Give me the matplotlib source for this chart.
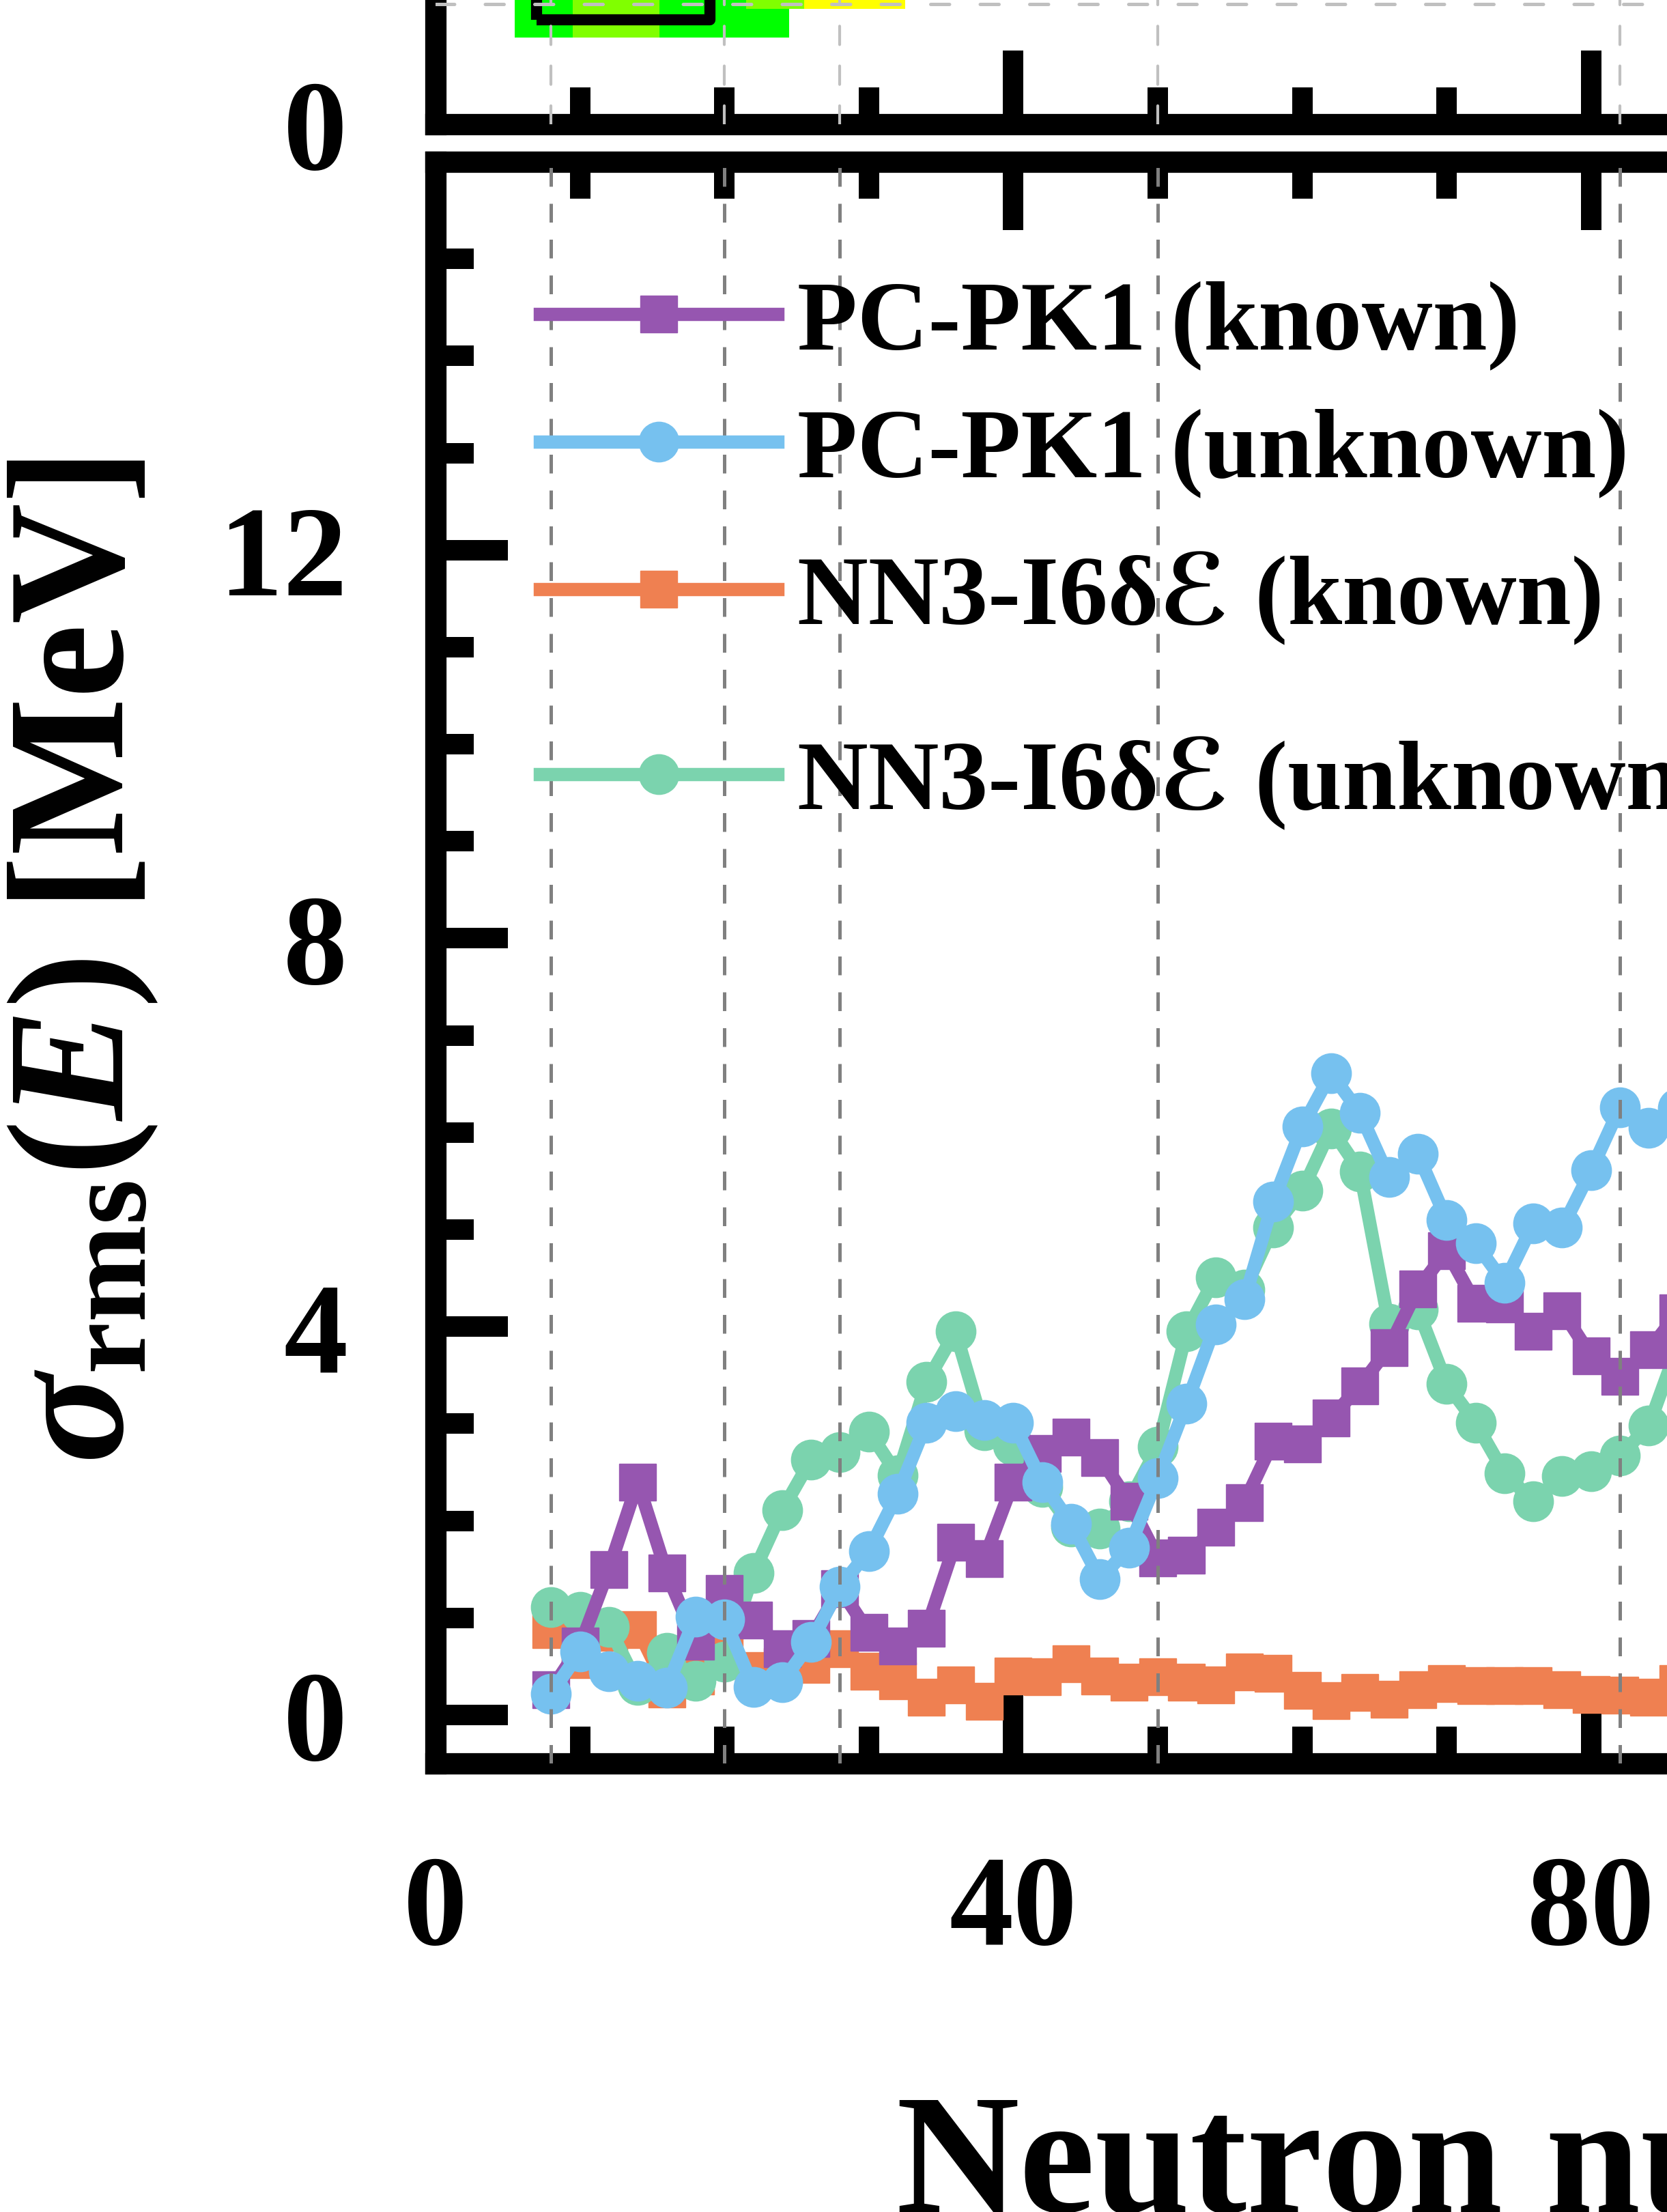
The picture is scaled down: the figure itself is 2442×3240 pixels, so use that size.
import matplotlib
matplotlib.use("Agg")
import matplotlib.pyplot as plt
from matplotlib.patches import Rectangle
from matplotlib.ticker import MultipleLocator, FixedLocator, NullFormatter
from matplotlib.font_manager import FontProperties

# ---------------- data ----------------
N = [8, 10, 12, 14, 16, 18, 20, 22, 24, 26, 28, 30, 32, 34, 36, 38, 40, 42, 44, 46,
     48, 50, 52, 54, 56, 58, 60, 62, 64, 66, 68, 70, 72, 74, 76, 78, 80, 82, 84, 86]

pcpk1_known = [0.26, 0.71, 1.50, 2.40, 1.46, 0.76, 1.25, 0.98, 0.68, 0.79, 1.30, 0.85, 0.71, 0.89,
               1.78, 1.61, 2.40, 2.69, 2.86, 2.65, 2.20, 1.62, 1.645, 1.93, 2.19, 2.82, 2.79, 3.06,
               3.39, 3.78, 4.39, 4.78, 4.24, 4.23, 3.95, 4.16, 3.70, 3.49, 3.76, 4.14]
pcpk1_unknown = [0.22, 0.65, 0.45, 0.35, 0.28, 1.01, 0.985, 0.29, 0.34, 0.75, 1.32, 1.69, 2.28, 3.01,
                 3.13, 3.04, 3.01, 2.40, 1.97, 1.40, 1.72, 2.44, 3.21, 4.02, 4.28, 5.29, 6.06, 6.61,
                 6.20, 5.54, 5.78, 5.10, 4.86, 4.45, 5.06, 5.02, 5.61, 6.26, 6.05, 6.25]
nn3_known = [0.88, 0.57, 0.85, 0.88, 0.27, 0.40, 0.63, 0.46, 0.50, 0.52, 0.68, 0.45, 0.35, 0.18,
             0.31, 0.14, 0.40, 0.39, 0.53, 0.40, 0.34, 0.39, 0.34, 0.31, 0.44, 0.43, 0.25, 0.15,
             0.23, 0.16, 0.26, 0.32, 0.30, 0.30, 0.30, 0.26, 0.21, 0.20, 0.18, 0.32]
nn3_unknown = [1.11, 1.06, 0.91, 0.31, 0.64, 0.35, 0.55, 1.46, 2.11, 2.63, 2.71, 2.92, 2.47, 3.43,
               3.95, 2.93, 2.78, 2.35, 1.94, 1.92, 2.20, 2.76, 3.95, 4.51, 4.38, 5.02, 5.40, 6.04,
               5.60, 4.03, 4.18, 3.41, 3.01, 2.49, 2.20, 2.46, 2.51, 2.67, 2.98, 3.80]

labels = ["PC-PK1 (known)", "PC-PK1 (unknown)",
          "NN3-I6δ\u2130 (known)", "NN3-I6δ\u2130 (unknown)"]

magic_N = [8, 20, 28, 50, 82, 126]

# upper panel (nuclear-chart strip, only its lower edge is visible)
cell_row = [6, 6, 6, 7, 7, 7, 8, 8, 8, 8, 8]
cell_n0 = [6, 10, 16, 6, 10, 16, 6, 10, 16, 22, 26]
cell_n1 = [9, 15, 24, 9, 15, 24, 9, 15, 21, 25, 32]
cell_col = ["#00FF00", "#80FF00", "#00FF00", "#00FF00", "#80FF00", "#00FF00",
            "#00FF00", "#80FF00", "#00FF00", "#80FF00", "#FFFF00"]
box_N = (7.0, 19.0)
box_Z = (7.23, 13.0)
z_line = 8.3

# ---------------- style ----------------
plt.rcParams["font.family"] = ["Liberation Serif", "DejaVu Sans", "DejaVu Serif"]
plt.rcParams["font.weight"] = "bold"
plt.rcParams["axes.labelweight"] = "bold"
plt.rcParams["mathtext.fontset"] = "custom"
plt.rcParams["mathtext.rm"] = "Liberation Serif:bold"
plt.rcParams["mathtext.it"] = "Liberation Serif:bold:italic"
plt.rcParams["mathtext.bf"] = "Liberation Serif:bold"

W, H = 2442, 3241
fig = plt.figure(figsize=(W / 100, H / 100), dpi=100)

X0 = 638.0      # pixel of N = 0
PXN = 21.16     # pixels per unit of N
XMAX = 160
def fy(p):
    return 1 - p / H

# bottom axes
b_top, b_bot = 238.0, 2584.0
ax = fig.add_axes([X0 / W, fy(b_bot), XMAX * PXN / W, (b_bot - b_top) / H])
# top axes
t_bot = 183.0
TZMAX = 40
axt = fig.add_axes([X0 / W, fy(t_bot), XMAX * PXN / W, TZMAX * PXN / H])

SP = 22.5
for a in (ax, axt):
    for s in a.spines.values():
        s.set_linewidth(SP)
    a.set_xlim(0, XMAX)
    a.xaxis.set_major_locator(MultipleLocator(40))
    a.xaxis.set_minor_locator(MultipleLocator(10))
    a.tick_params(axis="both", which="both", direction="in", top=True, right=True,
                  width=21.6, labelsize=135, colors="black")
    a.tick_params(axis="x", which="major", length=72, pad=96)
    a.tick_params(axis="x", which="minor", length=39)
    a.tick_params(axis="y", which="major", length=76, pad=93)
    a.tick_params(axis="y", which="minor", length=40)

# ---- bottom panel ----
ax.set_ylim(-0.5, 16)
ax.yaxis.set_major_locator(FixedLocator([0, 4, 8, 12]))
ax.yaxis.set_minor_locator(MultipleLocator(1))

series = [
    (pcpk1_known, "#9656B0", "s", 39, 2.3),
    (pcpk1_unknown, "#76C1EF", "o", 42, 2.4),
    (nn3_known, "#EF8051", "s", 39, 2.1),
    (nn3_unknown, "#7BD3AE", "o", 42, 2.2),
]
handles = []
for (vals, col, mk, ms, z), lab in zip(series, labels):
    h, = ax.plot(N, vals, color=col, lw=14, marker=mk, ms=ms, mec=col, mfc=col,
                 zorder=z, label=lab, solid_joinstyle="round")
    handles.append(h)

for m in magic_N:
    ax.axvline(m, color="#808080", lw=3.6, ls=(0, (5.5, 5.0)), zorder=4)

legprop = FontProperties(family=["Liberation Serif", "DejaVu Sans", "DejaVu Serif"],
                         weight="bold", size=103.5)
axw = XMAX * PXN
axh = b_bot - b_top
lx = (791 - X0) / axw
leg1 = ax.legend(handles[:2], labels[:2], loc="center left",
                 bbox_to_anchor=(lx, 1 - ((469 + 655) / 2 + 8 - b_top) / axh),
                 frameon=False, prop=legprop, handlelength=2.42, handletextpad=0.2,
                 borderpad=0, borderaxespad=0, labelspacing=0.38, numpoints=1)
ax.add_artist(leg1)
leg2 = ax.legend(handles[2:], labels[2:], loc="center left",
                 bbox_to_anchor=(lx, 1 - ((873 + 1135) / 2 + 8 - b_top) / axh),
                 frameon=False, prop=legprop, handlelength=2.42, handletextpad=0.2,
                 borderpad=0, borderaxespad=0, labelspacing=0.93, numpoints=1)

ax.set_xlabel(r"Neutron number $N$", fontsize=180, fontweight="bold", ha="left", va="top")
ax.xaxis.set_label_coords((1312 - X0) / axw, -(3066 - b_bot) / axh)

fig.text(121 / W, fy(1408), r"$\sigma_{\mathrm{rms}}(E)$ [MeV]", fontsize=176,
         fontweight="bold", rotation=90, ha="center", va="center")

# ---- top panel ----
axt.set_ylim(0, TZMAX)
axt.yaxis.set_major_locator(FixedLocator([0, 20, 40]))
axt.yaxis.set_minor_locator(FixedLocator([]))
axt.xaxis.set_major_formatter(NullFormatter())
axt.tick_params(axis="x", which="major", length=78)

for r, n0, n1, c in zip(cell_row, cell_n0, cell_n1, cell_col):
    axt.add_patch(Rectangle((n0 - 0.5, r), n1 - n0 + 1, 1, facecolor=c,
                            edgecolor="none", zorder=1))
axt.add_patch(Rectangle((box_N[0], box_Z[0]), box_N[1] - box_N[0], box_Z[1] - box_Z[0],
                        facecolor="none", edgecolor="black", lw=11.7,
                        joinstyle="round", zorder=2))
for m in magic_N:
    axt.axvline(m, color="#C0C0C0", lw=3.0, ls=(0, (6.5, 7.5)), zorder=4,
                dash_capstyle="round")
axt.axhline(z_line, color="#C0C0C0", lw=3.6, ls=(0, (5.5, 9.0)), zorder=4,
            dash_capstyle="round")

fig.savefig("out.png", dpi=100)
